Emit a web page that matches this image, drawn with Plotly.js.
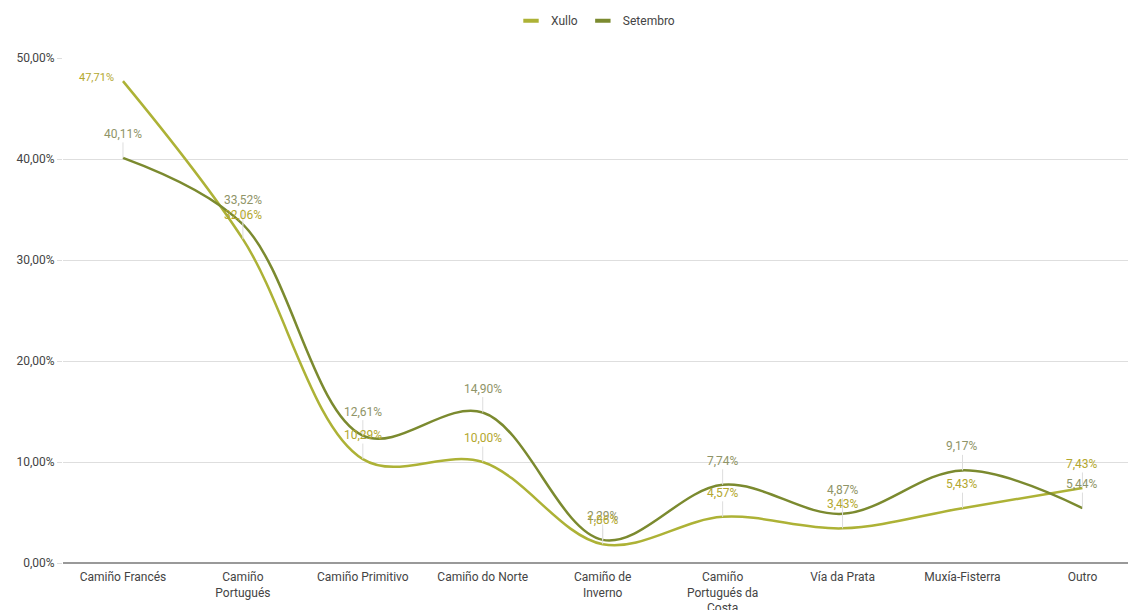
<!DOCTYPE html>
<html><head><meta charset="utf-8">
<script src="https://cdn.plot.ly/plotly-3.0.1.min.js"></script>
<style>html,body{margin:0;padding:0;background:#fff}#c{width:1128px;height:610px}</style>
</head><body><div id="c"></div>
<script>
const categories = ["Camiño Francés","Camiño<br>Portugués","Camiño Primitivo","Camiño do Norte","Camiño de<br>Inverno","Camiño<br>Portugués da<br>Costa","Vía da Prata","Muxía-Fisterra","Outro"];
const xullo = [47.71, 32.06, 10.29, 10.00, 1.86, 4.57, 3.43, 5.43, 7.43];
const setembro = [40.11, 33.52, 12.61, 14.90, 2.29, 7.74, 4.87, 9.17, 5.44];
const yTicks = [0,10,20,30,40,50];
const yTickText = ["0,00%","10,00%","20,00%","30,00%","40,00%","50,00%"];

const cX = '#adb236', cS = '#7b8a2f';
const lX = '#b3a72e', lS = '#8f9467';
const fmt = v => v.toFixed(2).replace('.', ',') + '%';

const traces = [
  {x: categories, y: xullo, name: 'Xullo', mode: 'lines', line: {color: cX, width: 2.5, shape: 'spline', smoothing: 1}, hoverinfo: 'none', showlegend: false},
  {x: categories, y: setembro, name: 'Setembro', mode: 'lines', line: {color: cS, width: 2.5, shape: 'spline', smoothing: 1}, hoverinfo: 'none', showlegend: false},
  {x: [null], y: [null], name: 'Xullo', mode: 'markers', marker: {symbol: 'line-ew-open', size: 11, color: cX, line: {color: cX, width: 4}}, showlegend: true},
  {x: [null], y: [null], name: 'Setembro', mode: 'markers', marker: {symbol: 'line-ew-open', size: 11, color: cS, line: {color: cS, width: 4}}, showlegend: true}
];

const ann = [];
setembro.forEach((v,i) => ann.push({x: categories[i], y: v, text: fmt(v), showarrow: true, arrowhead: 0, arrowwidth: 1, arrowcolor: '#dddddd', ax: 0, ay: -24, font: {family: 'Roboto, Arial, sans-serif', size: 12, color: lS}}));
xullo.forEach((v,i) => {
  const a = {x: categories[i], y: v, text: fmt(v), showarrow: true, arrowhead: 0, arrowwidth: 1, arrowcolor: '#dddddd', ax: 0, ay: -24, font: {family: 'Roboto, Arial, sans-serif', size: 12, color: lX}};
  if (i === 0) { a.ax = -26; a.ay = -4; a.arrowcolor = 'rgba(0,0,0,0)'; a.font.size = 11; }
  ann.push(a);
});

const layout = {
  width: 1128, height: 610,
  margin: {l: 63, r: 0, t: 58, b: 47},
  paper_bgcolor: '#fff', plot_bgcolor: '#fff',
  font: {family: 'Roboto, Arial, sans-serif', size: 12, color: '#444'},
  showlegend: true,
  legend: {orientation: 'h', x: 0.5, xanchor: 'center', y: 1.074, yanchor: 'middle', font: {size: 12, color: '#444'}, itemwidth: 30, tracegroupgap: 0},
  xaxis: {type: 'category', range: [-0.5, 8.38], showgrid: false, showline: false, ticks: '', ticklabelstandoff: 5, tickfont: {size: 12, color: '#444'}, fixedrange: true},
  yaxis: {range: [0, 50], tickvals: yTicks, ticktext: yTickText, showgrid: true, gridcolor: '#dedede', gridwidth: 1, zeroline: true, zerolinecolor: '#999', zerolinewidth: 2, ticks: 'outside', ticklen: 5, tickcolor: '#dddddd', tickfont: {size: 12, color: '#444'}, fixedrange: true},
  annotations: ann
};
Plotly.newPlot('c', traces, layout, {displayModeBar: false, staticPlot: true});
</script></body></html>
